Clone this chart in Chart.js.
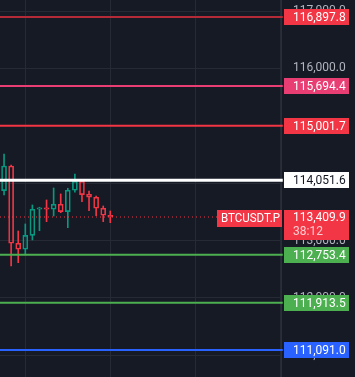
<!DOCTYPE html>
<html>
<head>
<meta charset="utf-8">
<script src="https://cdn.jsdelivr.net/npm/chart.js@4.4.1/dist/chart.umd.min.js"></script>
<style>
html, body { margin: 0; padding: 0; background: #161a25; overflow: hidden; }
</style>
</head>
<body>
<canvas id="chart" width="355" height="377"></canvas>
<script>
// candles (oldest first)
const opens  = [113869, 114300, 112952, 112847, 113091, 113545, 113570, 113545, 113632, 113503, 113876, 114033, 113806, 113754, 113562, 113440];
const highs  = [114509, 114317, 113166, 113289, 113620, 113580, 113707, 113916, 113812, 113911, 114160, 114068, 113864, 113776, 113602, 113515];
const lows   = [113794, 112556, 112614, 112748, 113010, 113172, 113329, 113428, 113486, 113224, 113841, 113677, 113520, 113433, 113329, 113311];
const closes = [114300, 112952, 112847, 113091, 113545, 113568, 113545, 113632, 113503, 113876, 114033, 113799, 113754, 113562, 113440, 113409.9];

// horizontal levels
const levelPrices = [116897.8, 115694.4, 115001.7, 114051.6, 112753.4, 111913.5, 111091.0];
const lastPrice = 113409.9;
const symbol = 'BTCUSDT.P';
const countdown = '38:12';
const yTicks = [111000, 112000, 113000, 114000, 115000, 116000, 117000];
const xGridTicks = [3, 15, 27, 39];

const lineColors  = ['#b52a37', '#e83e74', '#f23645', '#ffffff', '#4caf50', '#4caf50', '#2962ff'];
const labelColors = ['#f23645', '#e83e74', '#f23645', '#ffffff', '#4caf50', '#4caf50', '#2962ff'];
const textColors  = ['#ffffff', '#ffffff', '#ffffff', '#131722', '#ffffff', '#ffffff', '#ffffff'];
const lineWidths  = [2, 2, 2, 3, 2, 2, 2];

const UP = '#089981';
const DOWN = '#f23645';
const X_MIN = -0.572;
const X_MAX = 39.1;

function fmt(v) {
    return v.toLocaleString('en-US', { minimumFractionDigits: 1, maximumFractionDigits: 1 });
}

const candleColors = opens.map((o, i) => closes[i] >= o ? UP : DOWN);

const bodies = opens.map((o, i) => ({ x: i, y: [o, closes[i]] }));
const upperWicks = opens.map((o, i) => ({ x: i, y: [Math.max(o, closes[i]), highs[i]] }));
const lowerWicks = opens.map((o, i) => ({ x: i, y: [lows[i], Math.min(o, closes[i])] }));

const datasets = [];

levelPrices.forEach((p, i) => {
    datasets.push({
        type: 'line',
        data: [{ x: X_MIN, y: p }, { x: X_MAX + 0.25, y: p }],
        borderColor: lineColors[i],
        borderWidth: lineWidths[i],
        pointRadius: 0,
        clip: false,
        order: 0
    });
});

datasets.push({
    type: 'line',
    data: [{ x: X_MIN, y: lastPrice }, { x: X_MAX, y: lastPrice }],
    borderColor: DOWN,
    borderWidth: 1,
    borderDash: [1, 3],
    pointRadius: 0,
    order: 0
});

datasets.push({
    type: 'bar',
    data: upperWicks,
    backgroundColor: candleColors,
    borderWidth: 0,
    barThickness: 1,
    grouped: false,
    order: 1
});
datasets.push({
    type: 'bar',
    data: lowerWicks,
    backgroundColor: candleColors,
    borderWidth: 0,
    barThickness: 1,
    grouped: false,
    order: 1
});
datasets.push({
    type: 'bar',
    data: bodies,
    backgroundColor: 'rgba(0,0,0,0)',
    borderColor: candleColors,
    borderWidth: 1,
    borderSkipped: false,
    barThickness: 5,
    grouped: false,
    order: 1
});

const levelLabels = {
    id: 'levelLabels',
    afterDraw(chart) {
        const ctx = chart.ctx;
        const y = chart.scales.y;
        const left = chart.chartArea.right + 3;
        ctx.save();
        ctx.font = '12px Roboto';
        ctx.textBaseline = 'middle';
        ctx.textAlign = 'left';
        levelPrices.forEach((p, i) => {
            const py = Math.round(y.getPixelForValue(p));
            ctx.fillStyle = labelColors[i];
            ctx.fillRect(left, py - 8, 65, 16);
            ctx.fillStyle = textColors[i];
            ctx.fillText(fmt(p), left + 9, py + 0.5);
        });

        // current price + countdown
        const lp = Math.round(y.getPixelForValue(lastPrice));
        ctx.fillStyle = DOWN;
        ctx.fillRect(left, lp - 7, 65, 30);
        ctx.fillStyle = '#ffffff';
        ctx.fillText(fmt(lastPrice), left + 9, lp + 0.5);
        ctx.fillStyle = 'rgba(255,255,255,0.75)';
        ctx.fillText(countdown, left + 9, lp + 14.5);

        // symbol tag
        ctx.fillStyle = DOWN;
        ctx.fillRect(217, lp - 7, 65, 17);
        ctx.fillStyle = '#ffffff';
        ctx.fillText(symbol, 221, lp + 1.5, 59);
        ctx.restore();
    }
};

new Chart(document.getElementById('chart'), {
    type: 'bar',
    data: { datasets: datasets },
    options: {
        responsive: false,
        animation: false,
        devicePixelRatio: 1,
        layout: { padding: 0 },
        plugins: { legend: { display: false }, tooltip: { enabled: false } },
        scales: {
            x: {
                type: 'linear',
                min: X_MIN,
                max: X_MAX,
                offset: false,
                ticks: { display: false },
                border: { display: false },
                grid: { color: '#262a35', drawTicks: false, offset: false },
                afterBuildTicks: s => { s.ticks = xGridTicks.map(v => ({ value: v })); },
                afterFit: s => { s.height = 0; s.paddingLeft = 0; s.paddingRight = 0; }
            },
            y: {
                position: 'right',
                min: 110620,
                max: 117194,
                border: { display: true, color: '#2a2e39' },
                grid: { color: '#262a35', drawTicks: false },
                afterBuildTicks: s => { s.ticks = yTicks.map(v => ({ value: v })); },
                afterFit: s => { s.width = 74; s.paddingTop = 0; s.paddingBottom = 0; },
                ticks: {
                    color: '#b2b5be',
                    padding: 12,
                    font: { family: 'Roboto', size: 12 },
                    callback: v => fmt(v)
                }
            }
        }
    },
    plugins: [levelLabels]
});
</script>
</body>
</html>
